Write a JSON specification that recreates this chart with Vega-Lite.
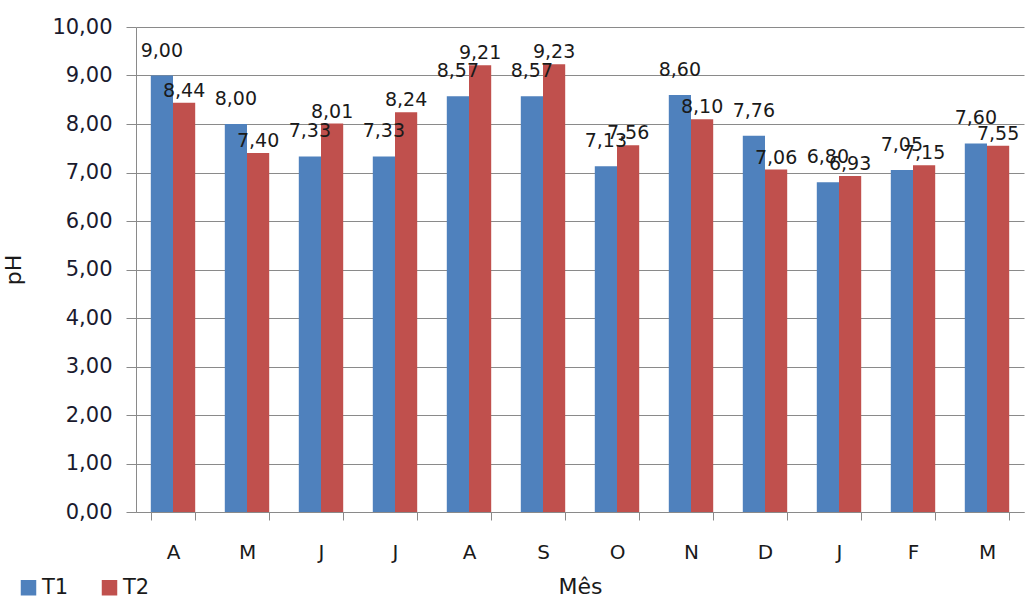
{
  "$schema": "https://vega.github.io/schema/vega-lite/v6.json",
  "autosize": "none",
  "width": 888,
  "height": 485,
  "padding": {"left": 136, "top": 27, "right": 6, "bottom": 92},
  "background": "white",
  "config": {
    "locale": {"number": {"decimal": ",", "thousands": ".", "grouping": [3], "currency": ["", ""]}},
    "font": "DejaVu Sans",
    "view": {"stroke": null}
  },
  "data": {
    "values": [
      {"mes": "Abr", "serie": "T1", "ph": 9.00}, {"mes": "Abr", "serie": "T2", "ph": 8.44},
      {"mes": "Mai", "serie": "T1", "ph": 8.00}, {"mes": "Mai", "serie": "T2", "ph": 7.40},
      {"mes": "Jun", "serie": "T1", "ph": 7.33}, {"mes": "Jun", "serie": "T2", "ph": 8.01},
      {"mes": "Jul", "serie": "T1", "ph": 7.33}, {"mes": "Jul", "serie": "T2", "ph": 8.24},
      {"mes": "Ago", "serie": "T1", "ph": 8.57}, {"mes": "Ago", "serie": "T2", "ph": 9.21},
      {"mes": "Set", "serie": "T1", "ph": 8.57}, {"mes": "Set", "serie": "T2", "ph": 9.23},
      {"mes": "Out", "serie": "T1", "ph": 7.13}, {"mes": "Out", "serie": "T2", "ph": 7.56},
      {"mes": "Nov", "serie": "T1", "ph": 8.60}, {"mes": "Nov", "serie": "T2", "ph": 8.10},
      {"mes": "Dez", "serie": "T1", "ph": 7.76}, {"mes": "Dez", "serie": "T2", "ph": 7.06},
      {"mes": "Jan", "serie": "T1", "ph": 6.80}, {"mes": "Jan", "serie": "T2", "ph": 6.93},
      {"mes": "Fev", "serie": "T1", "ph": 7.05}, {"mes": "Fev", "serie": "T2", "ph": 7.15},
      {"mes": "Mar", "serie": "T1", "ph": 7.60}, {"mes": "Mar", "serie": "T2", "ph": 7.55}
    ]
  },
  "encoding": {
    "x": {
      "field": "mes", "type": "nominal",
      "sort": ["Abr", "Mai", "Jun", "Jul", "Ago", "Set", "Out", "Nov", "Dez", "Jan", "Fev", "Mar"],
      "scale": {"paddingInner": 0.4, "paddingOuter": 0.2},
      "axis": {
        "title": "Mês", "titleFontSize": 22, "titleFontWeight": "normal", "titleColor": "#1a1a1a", "titlePadding": 14,
        "labelExpr": "substring(datum.label, 0, 1)", "labelAngle": 0, "labelFontSize": 20, "labelColor": "#1a1a1a", "labelPadding": 22,
        "tickBand": "extent", "tickSize": 8, "tickColor": "#8a8a8a", "domainColor": "#8a8a8a", "grid": false
      }
    },
    "xOffset": {"field": "serie", "type": "nominal", "sort": ["T1", "T2"]},
    "y": {
      "field": "ph", "type": "quantitative",
      "scale": {"domain": [0, 10], "nice": false},
      "axis": {
        "title": "pH", "titleFontSize": 22, "titleFontWeight": "normal", "titleColor": "#1a1a1a", "titlePadding": 26,
        "values": [0, 1, 2, 3, 4, 5, 6, 7, 8, 9, 10], "format": ".2f",
        "labelFontSize": 21, "labelColor": "#1a1a2e", "labelPadding": 14,
        "tickSize": 10, "tickColor": "#8a8a8a", "domainColor": "#8a8a8a",
        "grid": true, "gridColor": "#8a8a8a", "gridWidth": 1
      }
    }
  },
  "layer": [
    {
      "mark": {"type": "bar"},
      "encoding": {
        "color": {
          "field": "serie", "type": "nominal",
          "scale": {"domain": ["T1", "T2"], "range": ["#4F81BD", "#C0504D"]},
          "legend": {
            "title": null, "orient": "none", "direction": "horizontal",
            "legendX": -118, "legendY": 550,
            "symbolType": "square", "symbolSize": 240, "symbolStrokeWidth": 0,
            "labelFontSize": 21, "labelColor": "#1a1a1a", "columnPadding": 30, "labelOffset": 3
          }
        }
      }
    },
    {
      "transform": [{"filter": "datum.serie === 'T1'"}],
      "mark": {"type": "text", "baseline": "bottom", "dy": -15, "fontSize": 19, "color": "#1a1a1a"},
      "encoding": {
        "text": {"field": "ph", "type": "quantitative", "format": ".2f"}
      }
    },
    {
      "transform": [{"filter": "datum.serie === 'T2'"}],
      "mark": {"type": "text", "baseline": "bottom", "dy": -2, "fontSize": 19, "color": "#1a1a1a"},
      "encoding": {
        "text": {"field": "ph", "type": "quantitative", "format": ".2f"}
      }
    }
  ]
}
